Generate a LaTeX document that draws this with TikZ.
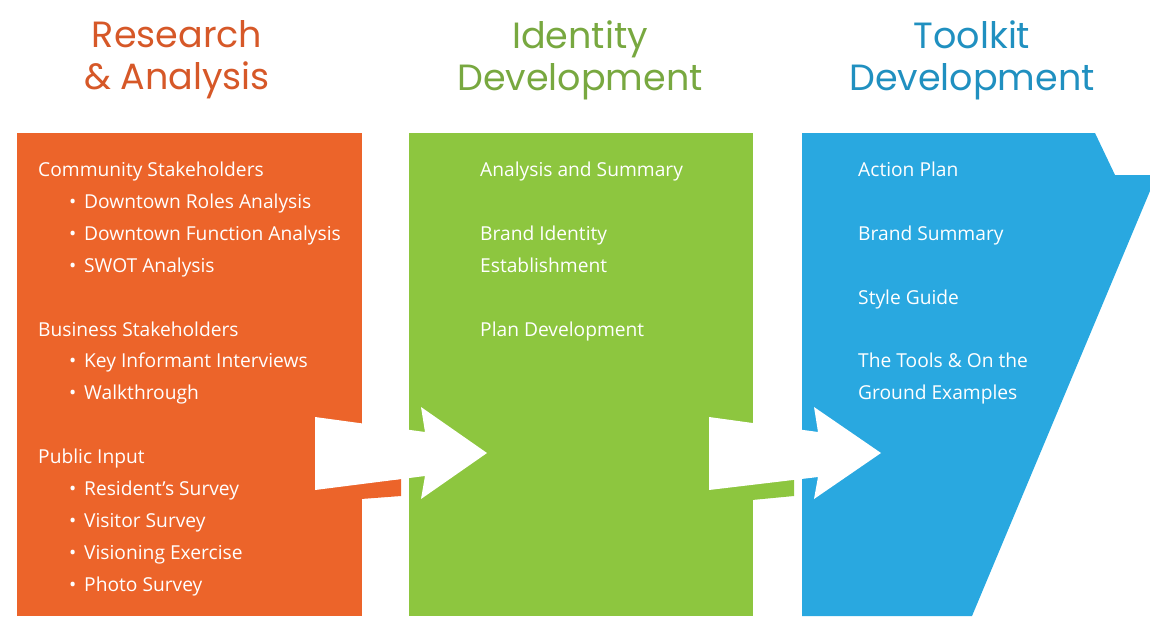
\documentclass[tikz,border=0pt]{standalone}
\usepackage{fontspec}
\setmainfont{Open Sans}
\newfontfamily\titlefont{Poppins}
\usepackage{xcolor}
\usepackage{tikz}

\definecolor{resorange}{RGB}{236,100,42}
\definecolor{idgreen}{RGB}{141,198,63}
\definecolor{toolblue}{RGB}{41,168,224}
\definecolor{resorangedark}{RGB}{214,88,40}
\definecolor{idgreendark}{RGB}{120,168,64}
\definecolor{toolbluedark}{RGB}{32,144,192}

\tikzset{
	title/.style={align=center, font=\titlefont\fontsize{36.5}{42}\selectfont},
	line/.style={anchor=base west, inner sep=0pt, text=white, font=\fontsize{19.2}{22}\selectfont}
}
\newcommand{\bul}{\makebox[15pt][l]{•}}

\begin{document}
\begin{tikzpicture}
	\useasboundingbox (0pt, 0pt) rectangle (1150pt, -616pt);
	% the three columns
	\fill[color=resorange] (17pt, -133pt) rectangle (362pt, -616pt);
	\fill[color=idgreen] (409pt, -133pt) rectangle (753pt, -616pt);
	\fill[color=toolblue] (802pt, -133pt) -- (1095pt, -133pt) -- (1115pt, -175pt) -- (1150pt, -175pt) -- (1150pt, -191pt) -- (972pt, -616pt) -- (802pt, -616pt) -- cycle;
	% tabs under the arrows
	\fill[color=resorange] (361pt, -483pt) -- (401pt, -479pt) -- (401pt, -496pt) -- (361pt, -499pt) -- cycle;
	\fill[color=idgreen] (752pt, -482pt) -- (794pt, -478pt) -- (794pt, -496pt) -- (752pt, -500pt) -- cycle;
	% arrows
	\fill[color=white] (315pt, -417pt) -- (425pt, -432pt) -- (421pt, -407pt) -- (487pt, -453pt) -- (421pt, -499pt) -- (425pt, -476pt) -- (315pt, -490pt) -- cycle;
	\fill[color=white] (709pt, -417pt) -- (818pt, -432pt) -- (814pt, -407pt) -- (881pt, -453pt) -- (814pt, -499pt) -- (818pt, -477pt) -- (709pt, -490pt) -- cycle;

	% titles
	\node[title, color=resorangedark] (restitle) at (177pt, -60pt) {Research\\\& Analysis};
	\node[title, color=idgreendark] (idtitle) at (580pt, -60pt) {Identity\\Development};
	\node[title, color=toolbluedark] (tooltitle) at (972pt, -60pt) {Toolkit\\Development};

	% research and analysis
	\node[line] (res1) at (38pt, -176pt) {Community Stakeholders};
	\node[line] (res2) at (69pt, -208pt) {\bul Downtown Roles Analysis};
	\node[line] (res3) at (69pt, -240pt) {\bul Downtown Function Analysis};
	\node[line] (res4) at (69pt, -272pt) {\bul SWOT Analysis};
	\node[line] (res5) at (38pt, -336pt) {Business Stakeholders};
	\node[line] (res6) at (69pt, -367pt) {\bul Key Informant Interviews};
	\node[line] (res7) at (69pt, -399pt) {\bul Walkthrough};
	\node[line] (res8) at (38pt, -463pt) {Public Input};
	\node[line] (res9) at (69pt, -495pt) {\bul Resident’s Survey};
	\node[line] (res10) at (69pt, -527pt) {\bul Visitor Survey};
	\node[line] (res11) at (69pt, -559pt) {\bul Visioning Exercise};
	\node[line] (res12) at (69pt, -591pt) {\bul Photo Survey};

	% identity development
	\node[line] (id1) at (480pt, -176pt) {Analysis and Summary};
	\node[line] (id2) at (480pt, -240pt) {Brand Identity};
	\node[line] (id3) at (480pt, -272pt) {Establishment};
	\node[line] (id4) at (480pt, -336pt) {Plan Development};

	% toolkit development
	\node[line] (tool1) at (858pt, -176pt) {Action Plan};
	\node[line] (tool2) at (858pt, -240pt) {Brand Summary};
	\node[line] (tool3) at (858pt, -304pt) {Style Guide};
	\node[line] (tool4) at (858pt, -367pt) {The Tools \& On the};
	\node[line] (tool5) at (858pt, -399pt) {Ground Examples};
\end{tikzpicture}
\end{document}
